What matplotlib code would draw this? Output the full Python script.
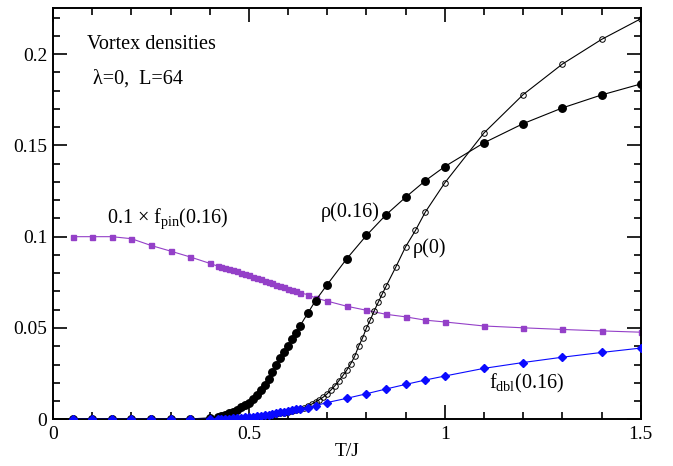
import matplotlib
matplotlib.use("Agg")
import matplotlib.pyplot as plt
from matplotlib.ticker import MultipleLocator, FuncFormatter

plt.rcParams['font.family'] = ['Liberation Serif', 'DejaVu Serif']
plt.rcParams['mathtext.fontset'] = 'custom'
plt.rcParams['mathtext.rm'] = 'Liberation Serif'
plt.rcParams['mathtext.it'] = 'Liberation Serif:italic'

# ---- data ----
T_low = [0.05, 0.10, 0.15, 0.20, 0.25, 0.30, 0.35, 0.40]
T_dense = [0.42, 0.43, 0.44, 0.45, 0.46, 0.47, 0.48, 0.49, 0.50, 0.51, 0.52,
           0.53, 0.54, 0.55, 0.56, 0.57, 0.58, 0.59, 0.60, 0.61, 0.62, 0.63]
T_high = [0.65, 0.67, 0.70, 0.75, 0.80, 0.85, 0.90, 0.95, 1.0, 1.1, 1.2, 1.3, 1.4, 1.5]
T_rho016 = T_low + T_dense + T_high

rho016 = [0.0, 0.0, 0.0, 0.0, 0.0, 0.0, 0.0002, 0.0008,
          0.0012, 0.0017, 0.0024, 0.0032, 0.0042, 0.0053, 0.0065, 0.0078, 0.0092, 0.0110, 0.0132,
          0.0158, 0.0188, 0.0220, 0.0258, 0.0300, 0.0335, 0.0369, 0.0402, 0.0437, 0.0472, 0.0510,
          0.0580, 0.0650, 0.0738, 0.0880, 0.1007, 0.1120, 0.1216, 0.1306, 0.1384, 0.1514,
          0.1619, 0.1705, 0.1776, 0.1836]

T_rho0 = T_low + [0.42, 0.43, 0.44, 0.45, 0.46, 0.47, 0.48, 0.49, 0.50, 0.51, 0.52,
                  0.53, 0.54, 0.55, 0.56, 0.57, 0.58, 0.59, 0.60, 0.61, 0.62, 0.63,
                  0.64, 0.65, 0.66, 0.67, 0.68, 0.69, 0.70, 0.71, 0.72, 0.73, 0.74,
                  0.75, 0.76, 0.77, 0.78, 0.79, 0.80, 0.81, 0.82, 0.83, 0.84, 0.85,
                  0.875, 0.90, 0.925, 0.95, 1.0, 1.1, 1.2, 1.3, 1.4, 1.5]
rho0 = [0.0, 0.0, 0.0, 0.0, 0.0, 0.0, 0.0, 0.0,
        0.0001, 0.0001, 0.0002, 0.0002, 0.0003, 0.0004, 0.0005, 0.0006, 0.0007, 0.0009, 0.0011,
        0.0013, 0.0016, 0.0019, 0.0023, 0.0027, 0.0032, 0.0037, 0.0042, 0.0047, 0.0053, 0.0058,
        0.0064, 0.0073, 0.0083, 0.0095, 0.0108, 0.0122, 0.0140, 0.0162, 0.0185, 0.0212, 0.0240,
        0.0270, 0.0305, 0.0345, 0.0400, 0.0445, 0.0500, 0.0545, 0.0595, 0.0640, 0.0685, 0.0728,
        0.0834, 0.0945, 0.1034, 0.1134, 0.1295, 0.1568, 0.1778, 0.1945, 0.2080, 0.2193]

T_fpin = T_low + T_dense + T_high
fpin_scaled = [0.1000, 0.1000, 0.1000, 0.0989, 0.0952, 0.0921, 0.0889, 0.0854,
               0.0839, 0.0836, 0.0831, 0.0824, 0.0817, 0.0810, 0.0802, 0.0795, 0.0788, 0.0780, 0.0773,
               0.0766, 0.0758, 0.0751, 0.0744, 0.0737, 0.0730, 0.0722, 0.0715, 0.0708, 0.0700, 0.0692,
               0.0683, 0.0664, 0.0647, 0.0619, 0.0597, 0.0575, 0.0561, 0.0543, 0.0533, 0.0511,
               0.0501, 0.0492, 0.0484, 0.0477]

T_fdbl = T_low + T_dense + T_high
fdbl = [0.0, 0.0, 0.0, 0.0, 0.0, 0.0, 0.0, 0.0,
        0.0001, 0.0002, 0.0003, 0.0004, 0.0005, 0.0006, 0.0008, 0.0010, 0.0012, 0.0014, 0.0017,
        0.0020, 0.0023, 0.0026, 0.0030, 0.0034, 0.0038, 0.0042, 0.0046, 0.0050, 0.0054, 0.0058,
        0.0064, 0.0075, 0.0092, 0.0115, 0.0140, 0.0166, 0.0191, 0.0215, 0.0237, 0.0279,
        0.0311, 0.0340, 0.0366, 0.0390]

purple = '#9440C8'
blue = '#0A0AFF'

fig = plt.figure(figsize=(6.73, 4.66), dpi=100)
ax = fig.add_axes([0.0788, 0.1002, 0.8732, 0.8818])

ax.plot(T_fpin, fpin_scaled, '-s', color=purple, lw=0.8, ms=3.6, mec=purple, mfc=purple, zorder=2)
ax.plot(T_rho0, rho0, '-o', color='black', lw=0.8, ms=4.0, mfc='none', mec='black', mew=0.7, zorder=3)
ax.plot(T_rho016, rho016, '-o', color='black', lw=0.8, ms=5.4, mfc='black', mec='black', zorder=4)
ax.plot(T_fdbl, fdbl, '-D', color=blue, lw=0.8, ms=3.8, mfc=blue, mec=blue, zorder=5)

ax.set_xlim(0, 1.5)
ax.set_ylim(0, 0.225)
ax.xaxis.set_major_locator(MultipleLocator(0.5))
ax.xaxis.set_minor_locator(MultipleLocator(0.1))
ax.yaxis.set_major_locator(MultipleLocator(0.05))
ax.yaxis.set_minor_locator(MultipleLocator(0.01))
ax.xaxis.set_major_formatter(FuncFormatter(lambda v, p: '%g' % v))
ax.yaxis.set_major_formatter(FuncFormatter(lambda v, p: '%g' % v))
ax.tick_params(which='both', direction='in', top=True, right=True, labelsize=14, width=1.2)
ax.tick_params(axis='y', which='major', pad=4)
ax.tick_params(axis='x', which='major', pad=5)
ax.tick_params(which='major', length=10)
ax.tick_params(which='minor', length=5)
for s in ax.spines.values():
    s.set_linewidth(1.4)

ax.set_xlabel('T/J', fontsize=14, labelpad=0)

fs = 14.5
ax.text(0.087, 0.203, 'Vortex densities', fontsize=fs)
ax.text(0.102, 0.184, 'λ=0,  L=64', fontsize=fs)
ax.text(0.138, 0.1075, r'0.1 × f$_{\rm pin}$(0.16)', fontsize=fs)
ax.text(0.683, 0.1106, 'ρ(0.16)', fontsize=fs)
ax.text(0.918, 0.091, 'ρ(0)', fontsize=fs)
ax.text(1.112, 0.0171, r'f$_{\rm dbl}$(0.16)', fontsize=fs)

fig.savefig('out.png', dpi=100)
